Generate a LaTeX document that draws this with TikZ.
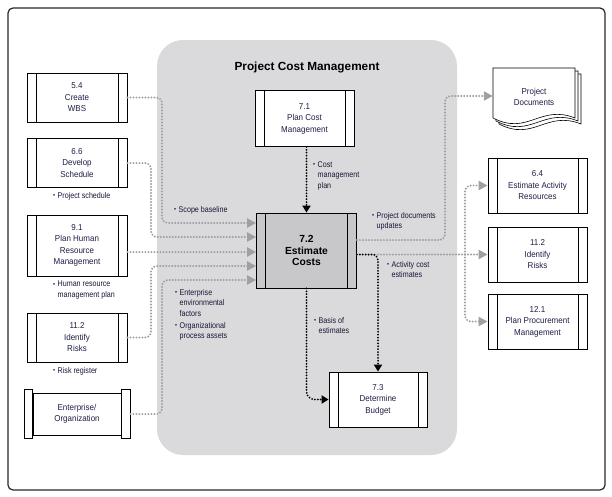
\documentclass[tikz,border=0pt]{standalone}
\usepackage{fontspec}
\usepackage{graphicx}
\setmainfont{Liberation Sans}
\newfontfamily\boxfont[FakeStretch=0.93]{Liberation Sans}
\newfontfamily\lblfont[FakeStretch=0.86]{Liberation Sans}
\usetikzlibrary{arrows.meta,calc}
\definecolor{txt}{RGB}{30,30,70}
\definecolor{lbltxt}{RGB}{22,22,55}
\definecolor{regionc}{RGB}{218,218,220}
\definecolor{estc}{RGB}{200,200,202}
\definecolor{gdot}{RGB}{160,160,163}
\definecolor{framec}{RGB}{40,40,40}
\newcommand\bul{\raisebox{0.2ex}{\scalebox{0.8}{\textbullet}}\hspace{2.5pt}}
\newcommand\ind{\phantom{\bul}}
\tikzset{
  proc/.style={draw=black, line width=0.8pt, fill=white, text=txt,
    font=\boxfont\fontsize{8.6}{11.5}\selectfont, align=center, inner sep=0pt,
    path picture={
      \draw[line width=0.8pt] ([xshift=9pt]path picture bounding box.north west) -- ([xshift=9pt]path picture bounding box.south west);
      \draw[line width=0.8pt] ([xshift=-9pt]path picture bounding box.north east) -- ([xshift=-9pt]path picture bounding box.south east);}},
  gline/.style={draw=gdot, line width=2.2pt, line cap=round, dash pattern=on 0pt off 3pt, rounded corners=6pt},
  garr/.style={gline, -{Triangle[length=9pt,width=9pt]}},
  bline/.style={draw=black, line width=2pt, line cap=round, dash pattern=on 0pt off 2.9pt, rounded corners=6pt},
  barr/.style={bline, -{Triangle[length=7pt,width=8pt]}},
  lbl/.style={anchor=north west, align=left, inner sep=0pt, text=lbltxt, font=\lblfont\fontsize{8.3}{10.5}\selectfont},
  page/.style={draw=black, line width=0.6pt, fill=white}
}
\begin{document}
\begin{tikzpicture}[x=1pt,y=-1pt]
\useasboundingbox (0,0) rectangle (612,496);
% outer frame
\draw[framec, line width=1.2pt, rounded corners=5pt] (8,8) rectangle (605,490);
% gray region
\fill[regionc, rounded corners=26pt] (157,40) rectangle (457,455);
\node[font=\bfseries\fontsize{11.8}{13}\selectfont] (title) at (307,67) {Project Cost Management};

% left boxes
\node[proc, minimum width=100pt, minimum height=49pt] (wbs) at (77,97.5) {5.4\\Create\\WBS};
\node[proc, minimum width=100pt, minimum height=49pt] (sched) at (77,163) {6.6\\Develop\\Schedule};
\node[proc, minimum width=100pt, minimum height=61pt] (hr) at (77,245.5) {9.1\\Plan Human\\Resource\\Management};
\node[proc, minimum width=100pt, minimum height=49pt] (risk) at (77,337.5) {11.2\\Identify\\Risks};
% enterprise scroll
\node[draw=black, line width=0.8pt, fill=white, text=txt, font=\boxfont\fontsize{8.6}{11.5}\selectfont, align=center,
      minimum width=88pt, minimum height=42pt, inner sep=0pt] (ent) at (77,414) {Enterprise/\\Organization};
\draw[line width=0.8pt, fill=white] ($(ent.north west)+(-8.5,-3)$) rectangle ($(ent.south west)+(0,3)$);
\draw[line width=0.8pt, fill=white] ($(ent.north east)+(0,-3)$) rectangle ($(ent.south east)+(9,3)$);
\coordinate (entout) at ($(ent.east)+(9,0)$);

% center boxes
\node[proc, minimum width=99pt, minimum height=56pt] (pcm) at (304.5,118.5) {7.1\\Plan Cost\\Management};
\node[proc, fill=estc, minimum width=100pt, minimum height=75pt, text=black,
      font=\bfseries\fontsize{10.3}{11.5}\selectfont] (est) at (306.5,250.5) {7.2\\Estimate\\Costs};
\node[proc, minimum width=98pt, minimum height=55pt] (bud) at (378,399.5) {7.3\\Determine\\Budget};

% right boxes
\node[proc, minimum width=99pt, minimum height=55pt] (ear) at (537.5,185.5) {6.4\\Estimate Activity\\Resources};
\node[proc, minimum width=99pt, minimum height=55pt] (ir2) at (537.5,254.5) {11.2\\Identify\\Risks};
\node[proc, minimum width=99pt, minimum height=55pt] (ppm) at (537.5,321.5) {12.1\\Plan Procurement\\Management};

% project documents
\draw[page] (499,74) -- (581,74) -- (581,124) .. controls (546,110) and (534,142) .. (499,124) -- cycle;
\draw[page] (496,71) -- (578,71) -- (578,121) .. controls (543,107) and (531,139) .. (496,121) -- cycle;
\draw[page] (493,68) -- (575,68) -- (575,118) .. controls (540,104) and (528,136) .. (493,118) -- cycle;
\node[text=txt, font=\boxfont\fontsize{8.6}{11.5}\selectfont, align=center, minimum width=82pt, minimum height=50pt, inner sep=0pt] (docs) at (534,97) {Project\\Documents};

% left connectors
\draw[garr] (wbs.east) -- (162,97.5) -- (162,223) -- (est.west |- 0,223);
\draw[garr] (sched.east) -- (151,163) -- (151,237) -- (est.west |- 0,237);
\draw[garr] (hr.east |- 0,252) -- (est.west |- 0,252);
\draw[garr] (risk.east) -- (151,337.5) -- (151,266) -- (est.west |- 0,266);
\draw[garr] (entout) -- (162,414) -- (162,280) -- (est.west |- 0,280);

% right connectors (gray)
\draw[garr] (est.east |- 0,240) -- (445,240) -- (445,96) -- (docs.west |- 0,96);
\draw[garr] (est.east |- 0,254.5) -- (ir2.west);
\draw[garr] (465,254.5) -- (465,185.5) -- (ear.west);
\draw[garr] (465,254.5) -- (465,321.5) -- (ppm.west);

% black connectors
\draw[barr] (est.north |- pcm.south) -- (est.north);
\draw[barr] (est.east |- 0,254.5) -- (bud.north |- 0,254.5) -- (bud.north);
\draw[barr, rounded corners=8pt] (est.south) |- (bud.west);

% labels
\node[lbl] (l1) at (53,192) {\bul Project schedule};
\node[lbl] (l2) at (174,206) {\bul Scope baseline};
\node[lbl] (l3) at (53,281) {\bul Human resource\\\ind management plan};
\node[lbl] (l4) at (53,367) {\bul Risk register};
\node[lbl] (l5) at (175,289) {\bul Enterprise\\\ind environmental\\\ind factors};
\node[lbl] (l6) at (175,322) {\bul Organizational\\\ind process assets};
\node[lbl] (l7) at (313,161) {\bul Cost\\\ind management\\\ind plan};
\node[lbl] (l8) at (372,212) {\bul Project documents\\\ind updates};
\node[lbl] (l9) at (387,261) {\bul Activity cost\\\ind estimates};
\node[lbl] (l10) at (314,317) {\bul Basis of\\\ind estimates};
\end{tikzpicture}
\end{document}
